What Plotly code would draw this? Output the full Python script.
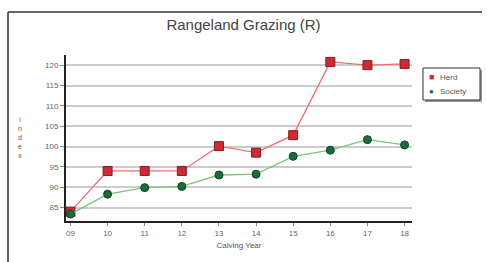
import plotly.graph_objects as go

years = ["09", "10", "11", "12", "13", "14", "15", "16", "17", "18"]
herd = [84.0, 94.0, 94.0, 94.0, 100.1, 98.5, 102.8, 120.8, 120.0, 120.3]
society = [83.4, 88.3, 89.9, 90.2, 93.0, 93.2, 97.6, 99.1, 101.7, 100.4]
y_ticks = [85, 90, 95, 100, 105, 110, 115, 120]

W, H = 487, 262
L, R, T, B = 66, 75, 55, 41
PW, PH = W - L - R, H - T - B


def px(x):
    return (x - L) / PW


def py(y):
    return (H - B - y) / PH


HERD_C = "#cc2b36"
SOC_C = "#1d6b3c"

fig = go.Figure()
fig.add_trace(go.Scatter(
    x=list(range(len(years))), y=herd, name="Herd", mode="lines+markers",
    line=dict(color="#f07070", width=1.3),
    marker=dict(symbol="square", size=9, color=HERD_C, line=dict(color="#8a1a20", width=1)),
))
fig.add_trace(go.Scatter(
    x=list(range(len(years))), y=society, name="Society", mode="lines+markers",
    line=dict(color="#7cc47c", width=1.3),
    marker=dict(symbol="circle", size=8, color=SOC_C, line=dict(color="#0f4425", width=1)),
))

fig.update_layout(
    width=W, height=H,
    margin=dict(l=L, r=R, t=T, b=B, autoexpand=False),
    paper_bgcolor="white", plot_bgcolor="white",
    font=dict(family="Liberation Sans, Arial", color="#555555", size=8),
    title=dict(text="Rangeland Grazing (R)", x=0.5, xanchor="center", y=1 - 25 / H, yanchor="middle",
               font=dict(size=15, color="#444444")),
    showlegend=False,
    xaxis=dict(
        range=[-0.12, 9.2], tickmode="array", tickvals=list(range(len(years))), ticktext=years,
        showgrid=False, zeroline=False, showline=True, linecolor="#222222", linewidth=2,
        ticks="outside", ticklen=3, tickcolor="#888888",
        title=dict(text="Calving Year", font=dict(size=8, color="#555555"), standoff=6),
        tickfont=dict(size=8, color="#666666"),
    ),
    yaxis=dict(
        range=[81.7, 122.5], tickmode="array", tickvals=y_ticks,
        showgrid=True, gridcolor="#cccccc", gridwidth=2, zeroline=False,
        showline=True, linecolor="#222222", linewidth=2,
        ticks="outside", ticklen=4, tickcolor="#888888",
        tickfont=dict(size=8, color="#666666"),
    ),
)

fig.add_annotation(text="i<br>n<br>d<br>e<br>x", xref="paper", yref="paper",
                   x=px(20), y=py(137),
                   xanchor="center", yanchor="middle", showarrow=False,
                   font=dict(size=7, color="#555555"))

# figure frame: left and top edges
fig.add_shape(type="line", xref="paper", yref="paper",
              x0=px(8), x1=px(8), y0=py(H), y1=py(12),
              line=dict(color="#333333", width=1.5))
fig.add_shape(type="line", xref="paper", yref="paper",
              x0=px(8), x1=px(482), y0=py(12), y1=py(12),
              line=dict(color="#333333", width=1.5))

# custom compact legend with shadow
fig.add_shape(type="rect", xref="paper", yref="paper",
              x0=px(425), x1=px(482), y0=py(102), y1=py(70),
              line=dict(width=0), fillcolor="#999999")
fig.add_shape(type="rect", xref="paper", yref="paper",
              x0=px(423), x1=px(480), y0=py(100), y1=py(68),
              line=dict(color="#333333", width=1), fillcolor="white")
fig.add_annotation(text="■", xref="paper", yref="paper", x=px(431), y=py(77),
                   xanchor="center", yanchor="middle", showarrow=False,
                   font=dict(size=9, color=HERD_C))
fig.add_annotation(text="●", xref="paper", yref="paper", x=px(431), y=py(91),
                   xanchor="center", yanchor="middle", showarrow=False,
                   font=dict(size=8, color=SOC_C))
fig.add_annotation(text="Herd", xref="paper", yref="paper", x=px(438), y=py(77),
                   xanchor="left", yanchor="middle", showarrow=False,
                   font=dict(size=8, color="#555555"))
fig.add_annotation(text="Society", xref="paper", yref="paper", x=px(438), y=py(91),
                   xanchor="left", yanchor="middle", showarrow=False,
                   font=dict(size=8, color="#555555"))

fig.write_html("out.html", config={"displayModeBar": False},
               post_script="document.body.style.margin='0';document.body.style.overflow='hidden';")
